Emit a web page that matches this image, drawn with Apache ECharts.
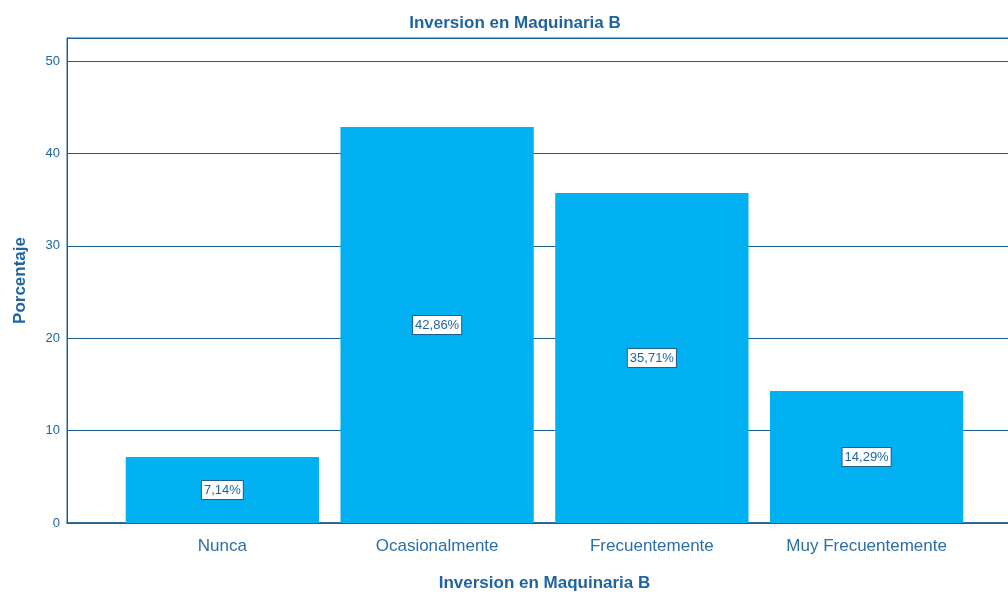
<!DOCTYPE html>
<html>
<head>
<meta charset="utf-8">
<script src="https://cdn.jsdelivr.net/npm/echarts@6/dist/echarts.min.js"></script>
<style>
  html, body { margin: 0; padding: 0; background: #fff; }
  #chart { width: 1008px; height: 592px; }
</style>
</head>
<body>
<div id="chart"></div>
<script>
// datos
const categorias = ['Nunca', 'Ocasionalmente', 'Frecuentemente', 'Muy Frecuentemente'];
const porcentajes = [7.14, 42.86, 35.71, 14.29];
const yTicks = [0, 10, 20, 30, 40, 50];

const azulTexto = '#1f64a0';
const azulLinea = '#1a5f94';
const azulBarra = '#00b0f0';

const chart = echarts.init(document.getElementById('chart'));

const option = {
    backgroundColor: '#ffffff',
    animation: false,
    title: {
        text: 'Inversion en Maquinaria B',
        left: 510,
        textAlign: 'center',
        top: 10,
        textStyle: { color: azulTexto, fontSize: 17, fontWeight: 'bold', fontFamily: 'Liberation Sans' }
    },
    grid: [
        // marco y lineas de cuadricula (borde derecho fuera de la imagen)
        { left: 67, top: 38, width: 960, bottom: 69, outerBoundsMode: 'none', show: true, borderColor: azulLinea, borderWidth: 1, backgroundColor: 'transparent' },
        // barras
        { left: 115, top: 38, width: 859, bottom: 69, outerBoundsMode: 'none' }
    ],
    xAxis: [
        {
            gridIndex: 0, type: 'category', data: [''],
            axisLine: { show: true, lineStyle: { color: azulLinea, width: 1.5 } },
            axisTick: { show: false }, axisLabel: { show: false }
        },
        {
            gridIndex: 1, type: 'category', data: categorias,
            axisLine: { show: false }, axisTick: { show: false },
            axisLabel: { color: '#2b6ea8', fontSize: 17, margin: 15, fontFamily: 'Liberation Sans' },
            name: 'Inversion en Maquinaria B',
            nameLocation: 'middle',
            nameGap: 52,
            nameTextStyle: { color: azulTexto, fontSize: 17, fontWeight: 'bold', fontFamily: 'Liberation Sans' }
        }
    ],
    yAxis: [
        {
            gridIndex: 0, type: 'value', min: 0, max: 52.5, interval: 10,
            axisLine: { show: true, lineStyle: { color: azulLinea } },
            axisTick: { show: false },
            axisLabel: {
                color: azulTexto, fontSize: 13, margin: 7, fontFamily: 'Liberation Sans',
                formatter: v => yTicks.includes(v) ? String(v) : ''
            },
            splitLine: { show: true, lineStyle: { color: azulLinea, width: 1 } },
            name: 'Porcentaje',
            nameLocation: 'middle',
            nameGap: 38,
            nameTextStyle: { color: azulTexto, fontSize: 17, fontWeight: 'bold', fontFamily: 'Liberation Sans' }
        },
        {
            gridIndex: 1, type: 'value', min: 0, max: 52.5, interval: 10,
            show: false, splitLine: { show: false }
        }
    ],
    series: [{
        type: 'bar',
        xAxisIndex: 1,
        yAxisIndex: 1,
        data: porcentajes,
        barCategoryGap: '10%',
        itemStyle: { color: azulBarra },
        label: {
            show: true,
            position: 'inside',
            formatter: p => p.value.toFixed(2).replace('.', ',') + '%',
            color: azulTexto,
            fontSize: 13,
            fontFamily: 'Liberation Sans',
            backgroundColor: '#ffffff',
            borderColor: azulLinea,
            borderWidth: 1,
            padding: [3, 2, 2, 2]
        }
    }]
};

chart.setOption(option);
</script>
</body>
</html>
